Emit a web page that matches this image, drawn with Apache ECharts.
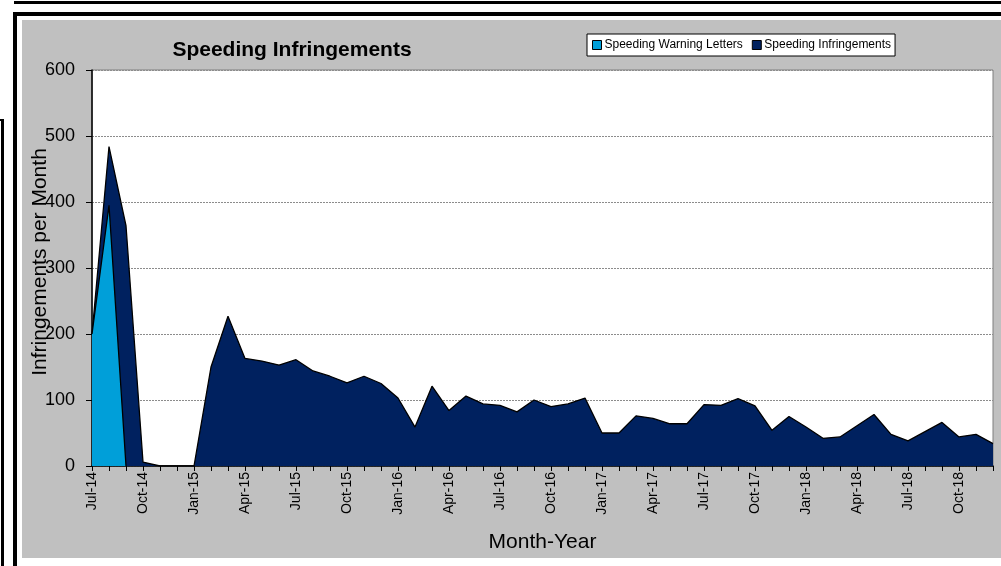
<!DOCTYPE html>
<html>
<head>
<meta charset="utf-8">
<script src="https://cdn.jsdelivr.net/npm/echarts@6/dist/echarts.min.js"></script>
<style>
html,body{margin:0;padding:0;background:#fff;}
#chart{width:1001px;height:566px;}
</style>
</head>
<body>
<div id="chart"></div>
<script>
var months = ['Jul-14','Aug-14','Sep-14','Oct-14','Nov-14','Dec-14',
  'Jan-15','Feb-15','Mar-15','Apr-15','May-15','Jun-15','Jul-15','Aug-15','Sep-15','Oct-15','Nov-15','Dec-15',
  'Jan-16','Feb-16','Mar-16','Apr-16','May-16','Jun-16','Jul-16','Aug-16','Sep-16','Oct-16','Nov-16','Dec-16',
  'Jan-17','Feb-17','Mar-17','Apr-17','May-17','Jun-17','Jul-17','Aug-17','Sep-17','Oct-17','Nov-17','Dec-17',
  'Jan-18','Feb-18','Mar-18','Apr-18','May-18','Jun-18','Jul-18','Aug-18','Sep-18','Oct-18','Nov-18','Dec-18'];

var infringements = [200,484,364,6,0,0,
  0,150,227,163,159,153,161,144,136,126,136,125,
  103,59,121,84,106,94,92,82,100,90,94,103,
  50,50,76,72,64,64,93,92,102,91,54,75,
  59,42,44,61,78,48,38,52,66,44,48,34];

var warningLetters = [200,395,0];

var yTicks = {min:0, max:600, interval:100};

var FONT = 'Liberation Sans, Arial, sans-serif';
var chart = echarts.init(document.getElementById('chart'));
var option = {
  animation:false,
  backgroundColor:'#ffffff',
  graphic:[
    {type:'rect', z:-10, shape:{x:22,y:20,width:979,height:538}, style:{fill:'#c0c0c0'}},
    {type:'rect', shape:{x:14,y:1,width:987,height:3}, style:{fill:'#000'}},
    {type:'rect', shape:{x:13,y:12,width:988,height:4}, style:{fill:'#000'}},
    {type:'rect', shape:{x:13,y:12,width:4,height:554}, style:{fill:'#000'}},
    {type:'rect', shape:{x:1,y:119,width:3,height:447}, style:{fill:'#000'}},
    {type:'rect', shape:{x:0,y:119,width:4,height:2}, style:{fill:'#000'}},
    {type:'text', x:40, y:262, rotation:Math.PI/2,
      style:{text:'Infringements per Month', fontFamily:FONT, fontSize:21, fill:'#000', align:'center', verticalAlign:'middle'}}
  ],
  title:{
    text:'Speeding Infringements',
    left:287, top:35, textAlign:'center',
    textStyle:{fontFamily:FONT, fontSize:21, fontWeight:'bold', color:'#000'}
  },
  legend:{
    data:['Speeding Warning Letters','Speeding Infringements'],
    left:587, top:34,
    backgroundColor:'#fff', borderColor:'#000', borderWidth:1,
    padding:[5,4,5,5],
    icon:'rect', itemWidth:9, itemHeight:9, itemGap:9,
    itemStyle:{borderColor:'#000', borderWidth:1},
    textStyle:{fontFamily:FONT, fontSize:12, color:'#000', padding:[0,0,0,-2]}
  },
  grid:{left:92, top:70, right:8, bottom:100, show:true, backgroundColor:'#fff', borderColor:'#7f7f7f', borderWidth:1},
  xAxis:{
    type:'category', data:months, boundaryGap:false,
    name:'Month-Year', nameLocation:'middle', nameGap:66,
    nameTextStyle:{fontFamily:FONT, fontSize:21, color:'#000'},
    axisLine:{lineStyle:{color:'#000', width:1.5}},
    axisTick:{show:true, interval:0, length:5, lineStyle:{color:'#000'}},
    axisLabel:{interval:2, rotate:90, fontFamily:FONT, fontSize:14, color:'#000', margin:6},
    splitLine:{show:false}
  },
  yAxis:{
    type:'value', min:yTicks.min, max:yTicks.max, interval:yTicks.interval,
    axisLine:{show:true, lineStyle:{color:'#000', width:1.5}},
    axisTick:{show:true, length:6, lineStyle:{color:'#000'}},
    axisLabel:{fontFamily:FONT, fontSize:18, color:'#000', margin:17},
    splitLine:{show:true, lineStyle:{color:'#8c8c8c', type:[2,1], width:1}}
  },
  series:[
    {
      name:'Speeding Infringements', type:'line', data:infringements,
      symbol:'none', z:2,
      itemStyle:{color:'#00215f'},
      lineStyle:{color:'#000', width:1.3},
      areaStyle:{color:'#00215f', opacity:1}
    },
    {
      name:'Speeding Warning Letters', type:'line', data:warningLetters,
      symbol:'none', z:3,
      itemStyle:{color:'#009fd9'},
      lineStyle:{color:'#000', width:1.3},
      areaStyle:{color:'#009fd9', opacity:1}
    }
  ]
};
chart.setOption(option);
</script>
</body>
</html>
